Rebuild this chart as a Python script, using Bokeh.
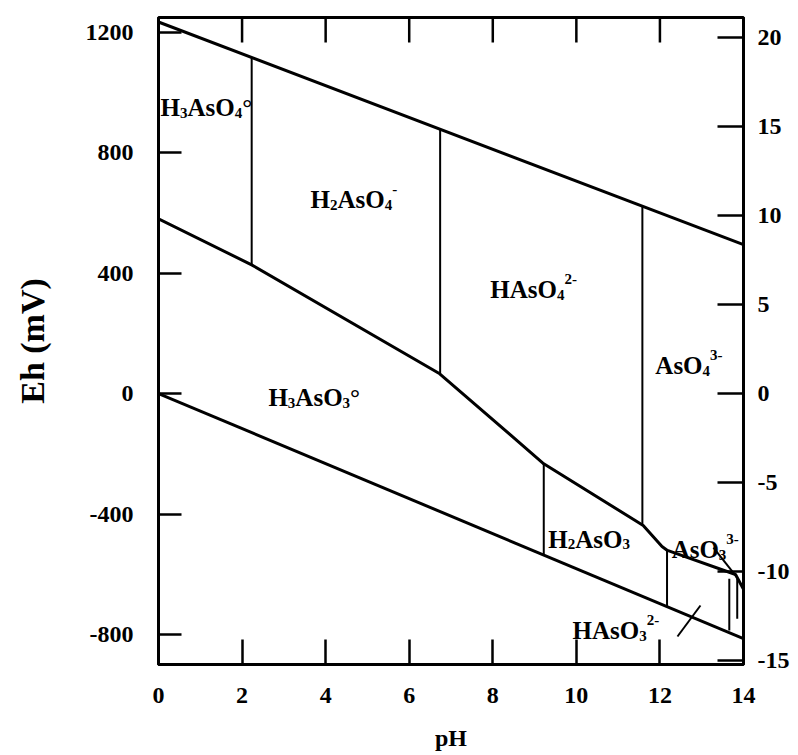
from bokeh.plotting import figure
from bokeh.models import LinearAxis, Range1d, FixedTicker, ColumnDataSource
from bokeh.core.properties import value
from bokeh.embed import file_html
from bokeh.resources import INLINE

# ---------------- data ----------------
# water stability limits
upper_ph = [0.0, 14.0]
upper_eh = [1235, 495]
lower_ph = [0.0, 14.0]
lower_eh = [0, -814]
# As(V) / As(III) boundary
redox_ph = [0.0, 2.23, 6.73, 9.22, 11.38, 11.6, 12.05, 12.18, 13.81, 14.0]
redox_eh = [581, 428, 66, -233, -419, -438, -508, -521, -601, -650]
# acid-base (vertical) boundaries
vert_ph = [2.23, 6.74, 11.58, 9.22, 12.17, 13.66, 13.85]
vert_eh_top = [1117, 879, 623, -233, -521, -615, -615]
vert_eh_bot = [428, 66, -436, -536, -707, -787, -748]
# short marks / leader lines
mark_ph0 = [13.28, 12.42]
mark_eh0 = [-512, -807]
mark_ph1 = [13.84, 12.97]
mark_eh1 = [-610, -704]
# species fields
species = ["H₃AsO₄°", "H₂AsO₄⁻", "HAsO₄²⁻", "AsO₄³⁻",
           "H₃AsO₃°", "H₂AsO₃", "AsO₃³⁻", "HAsO₃²⁻"]
species_ph = [0.05, 3.64, 7.94, 11.89, 2.63, 9.33, 12.28, 9.91]
species_eh = [977, 671, 372, 120, 13, -458, -492, -761]
# axes
ph_ticks = [0, 2, 4, 6, 8, 10, 12, 14]
eh_ticks = [-800, -400, 0, 400, 800, 1200]
pe_ticks = [-15, -10, -5, 0, 5, 10, 15, 20]
EH_MIN, EH_MAX = -900, 1250
MV_PER_PE = 59.16

FONT = "Liberation Serif"
FRAME_W, FRAME_H = 585, 647
TICK = 25

p = figure(frame_width=FRAME_W, frame_height=FRAME_H,
           min_border_left=158, min_border_right=55,
           min_border_top=17, min_border_bottom=91,
           x_range=Range1d(0, 14), y_range=Range1d(EH_MIN, EH_MAX),
           output_backend="svg", toolbar_location=None,
           background_fill_color="white", border_fill_color="white")
p.grid.visible = False
p.outline_line_color = "black"
p.outline_line_width = 3
p.extra_y_ranges = {"pe": Range1d(EH_MIN / MV_PER_PE, EH_MAX / MV_PER_PE)}

def hyphen_labels(ticks):
    return {t: str(t) for t in ticks}

def style_axis(ax, tick_len, standoff):
    ax.axis_line_width = 3
    ax.axis_line_color = "black"
    ax.major_tick_line_width = 2.5
    ax.major_tick_in = tick_len
    ax.major_tick_out = 0
    ax.minor_tick_line_color = None
    ax.major_label_text_font = FONT
    ax.major_label_text_font_style = "bold"
    ax.major_label_text_font_size = "24px"
    ax.major_label_text_color = "black"
    ax.major_label_standoff = standoff
    ax.axis_label_text_font = FONT
    ax.axis_label_text_font_style = "bold"
    ax.axis_label_text_color = "black"

xb = p.xaxis[0]
xb.ticker = FixedTicker(ticks=ph_ticks)
style_axis(xb, TICK, 23)
xb.axis_label = "pH"
xb.axis_label_text_font_size = "24px"
xb.axis_label_standoff = 19

yl = p.yaxis[0]
yl.ticker = FixedTicker(ticks=eh_ticks)
yl.major_label_overrides = hyphen_labels(eh_ticks)
style_axis(yl, 23, 25)
yl.axis_label = "Eh (mV)"
yl.axis_label_text_font_size = "34px"
yl.axis_label_standoff = 32

yr = LinearAxis(y_range_name="pe", ticker=FixedTicker(ticks=pe_ticks))
yr.major_label_overrides = hyphen_labels(pe_ticks)
style_axis(yr, 26, 14)
p.add_layout(yr, "right")

# top-edge tick marks (inward), at the pH ticks
top_ticks = ph_ticks[1:-1]
tick_len_mv = TICK * (EH_MAX - EH_MIN) / FRAME_H
p.segment(x0=top_ticks, y0=[EH_MAX] * len(top_ticks),
          x1=top_ticks, y1=[EH_MAX - tick_len_mv] * len(top_ticks),
          line_color="black", line_width=2.5)

# ---------------- boundaries ----------------
p.line(upper_ph, upper_eh, line_color="black", line_width=3)
p.line(lower_ph, lower_eh, line_color="black", line_width=3)
p.line(redox_ph, redox_eh, line_color="black", line_width=3)
p.segment(x0=vert_ph, y0=vert_eh_bot, x1=vert_ph, y1=vert_eh_top,
          line_color="black", line_width=2)
p.segment(x0=mark_ph0, y0=mark_eh0, x1=mark_ph1, y1=mark_eh1,
          line_color="black", line_width=2)

# ---------------- species labels (with sub/superscripts) ----------------
F, FS = 25, 15
SUBS = "₀₁₂₃₄₅₆₇₈₉"
SUPS = {"²": "2", "³": "3", "⁻": "-"}
WID = {"H": 0.778, "A": 0.722, "s": 0.389, "O": 0.778, "°": 0.40, "-": 0.333}

def runs(s):
    out = []
    for ch in s:
        if ch in SUBS:
            kind, c = "sub", str(SUBS.index(ch))
        elif ch in SUPS:
            kind, c = "sup", SUPS[ch]
        else:
            kind, c = "n", ch
        if out and out[-1][0] == kind:
            out[-1][1] += c
        else:
            out.append([kind, c])
    return out

cols = dict(x=[], y=[], text=[], xo=[], yo=[], size=[])
for name, xv, yv in zip(species, species_ph, species_eh):
    xo = 0.0
    for kind, txt in runs(name):
        size = F if kind == "n" else FS
        yo = 8 if kind == "n" else (13 if kind == "sub" else -3)
        cols["x"].append(xv)
        cols["y"].append(yv)
        cols["text"].append(txt)
        cols["xo"].append(xo)
        cols["yo"].append(yo)
        cols["size"].append(f"{size}px")
        xo += sum(WID.get(c, 0.5) for c in txt) * size
src = ColumnDataSource(cols)
p.text(x="x", y="y", text="text", x_offset="xo", y_offset="yo",
       text_font_size="size", source=src, text_font=value(FONT),
       text_font_style="bold", text_color="black",
       text_baseline="alphabetic", text_align="left")

open("out.html", "w").write(file_html(p, INLINE))
